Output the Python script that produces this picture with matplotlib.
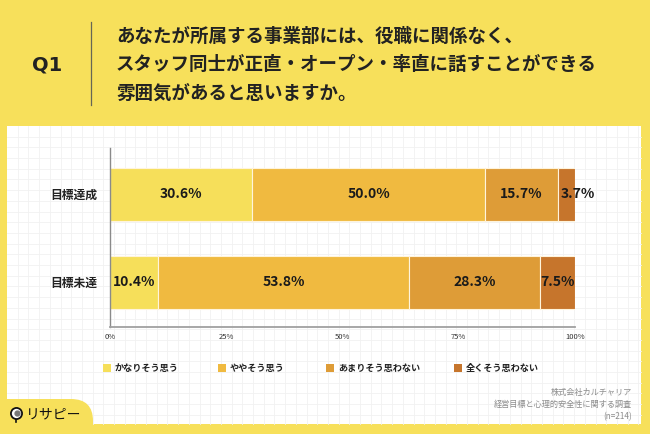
import matplotlib
matplotlib.use("Agg")
import matplotlib.pyplot as plt
from matplotlib.patches import Rectangle, FancyBboxPatch
import numpy as np

plt.rcParams['font.family'] = ['Noto Sans CJK JP', 'DejaVu Sans']

categories = ["目標達成", "目標未達"]
series_names = ["かなりそう思う", "ややそう思う", "あまりそう思わない", "全くそう思わない"]
values = {
    "かなりそう思う": [30.6, 10.4],
    "ややそう思う": [50.0, 53.8],
    "あまりそう思わない": [15.7, 28.3],
    "全くそう思わない": [3.7, 7.5],
}
colors = ["#F6DF5A", "#F0BA40", "#DE9C37", "#C6752C"]
xticks = [0, 25, 50, 75, 100]
xtick_labels = ["0%", "25%", "50%", "75%", "100%"]
question = ["あなたが所属する事業部には、役職に関係なく、",
            "スタッフ同士が正直・オープン・率直に話すことができる",
            "雰囲気があると思いますか。"]
source = ["株式会社カルチャリア", "経営目標と心理的安全性に関する調査", "(n=214)"]

W, H = 650, 434
YEL = "#F7E05B"
fig = plt.figure(figsize=(W / 100, H / 100), dpi=100, facecolor=YEL)

# background axes in pixel coordinates
bg = fig.add_axes([0, 0, 1, 1], zorder=0)
bg.set_xlim(0, W)
bg.set_ylim(H, 0)
bg.axis("off")
bg.add_patch(Rectangle((7, 126), 634, 298, facecolor="white", edgecolor="none"))
for gx in np.arange(7 + 10.7, 641, 10.7):
    bg.plot([gx, gx], [126, 424], color="#F1F1F1", lw=0.6, zorder=1)
for gy in np.arange(126 + 10.7, 424, 10.7):
    bg.plot([7, 641], [gy, gy], color="#F1F1F1", lw=0.6, zorder=1)
bg.add_patch(FancyBboxPatch((-30, 399), 123, 60,
                            boxstyle="round,pad=0,rounding_size=22",
                            facecolor=YEL, edgecolor="none", zorder=2))

# header
bg.text(47, 65, "Q1", fontsize=14, fontweight="bold", color="#222222",
        ha="center", va="center", family=["DejaVu Sans"])
bg.plot([91, 91], [22, 105], color="#666655", lw=0.9)
for i, line in enumerate(question):
    bg.text(116, 36 + i * 28.5, line, fontsize=13.3, fontweight="bold",
            color="#222222", ha="left", va="center")

# main chart
ax = fig.add_axes([110 / W, (H - 327) / H, 465 / W, 179 / H], zorder=3)
ax.patch.set_alpha(0)
ypos = [1, 0]
left = np.zeros(len(categories))
for name, col in zip(series_names, colors):
    vals = np.array(values[name])
    ax.barh(ypos, vals, left=left, height=0.6, color=col,
            edgecolor="#FFF4DC", linewidth=0.8)
    for y, l, v in zip(ypos, left, vals):
        if v < 5:
            ax.text(l + 0.7, y, f"{v:.1f}%", ha="left", va="center",
                    fontsize=10, fontweight="bold", color="#1a1a1a")
        else:
            ax.text(l + v / 2, y, f"{v:.1f}%", ha="center", va="center",
                    fontsize=10, fontweight="bold", color="#1a1a1a")
    left += vals

ax.set_xlim(0, 100)
ax.set_ylim(-0.506, 1.523)
ax.set_yticks(ypos)
ax.set_yticklabels(categories, fontsize=8.5, fontweight="bold", color="#222222")
ax.set_xticks(xticks)
ax.set_xticklabels(xtick_labels, fontsize=5.5, color="#333333")
ax.tick_params(axis="both", length=0)
ax.tick_params(axis="y", pad=9)
ax.tick_params(axis="x", pad=4)
for s in ["top", "right"]:
    ax.spines[s].set_visible(False)
ax.spines["left"].set_color("#8a8a8a")
ax.spines["left"].set_linewidth(1.0)
ax.spines["bottom"].set_color("#a0a0a0")
ax.spines["bottom"].set_linewidth(1.3)

# legend
leg_x = [107, 222, 330, 458]
for x, name, col in zip(leg_x, series_names, colors):
    bg.add_patch(Rectangle((x - 4, 364), 8, 8, facecolor=col, edgecolor="none", zorder=3))
    bg.text(x + 8, 368, name, fontsize=6.6, fontweight="bold", color="#222222",
            ha="left", va="center", zorder=3)

# source
for i, line in enumerate(source):
    bg.text(632, 392 + i * 12.3, line, fontsize=5.9, color="#8c8c8c",
            ha="right", va="center", zorder=3)

# logo
bg.plot([16, 16], [417, 422], color="#111111", lw=1.2, zorder=4)
bg.plot([16], [413], marker="o", markersize=8, markerfacecolor="white",
        markeredgecolor="#111111", markeredgewidth=1.3, zorder=5)
bg.plot([16.5], [413], marker="o", markersize=3.5, color="#777777", zorder=6)
bg.text(26, 414, "リサピー", fontsize=10, color="#111111", ha="left",
        va="center", zorder=4)

fig.savefig("out.png", dpi=100, facecolor=YEL)
